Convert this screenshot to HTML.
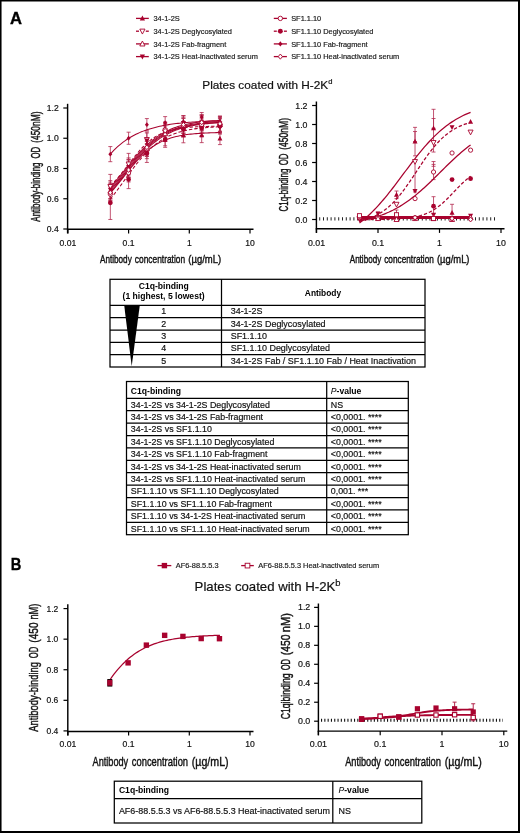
<!DOCTYPE html>
<html><head><meta charset="utf-8"><title>Figure</title>
<style>html,body{margin:0;padding:0;background:#fff;}svg{display:block;will-change:transform;}text{font-family:"Liberation Sans",sans-serif;}</style>
</head><body>
<svg width="520" height="833" viewBox="0 0 520 833" font-family="Liberation Sans, sans-serif">
<rect x="0" y="0" width="520" height="833" fill="#fff"/>
<text x="10" y="24.3" font-size="16.6" font-weight="bold" fill="#000" stroke="#000" stroke-width="0.35">A</text>
<line x1="136.00" y1="18.40" x2="148.80" y2="18.40" stroke="#a8022e" stroke-width="1.3" />
<path d="M142.40,15.54 L145.00,20.48 L139.80,20.48Z" fill="#a8022e"/>
<text x="153.50" y="21.25" font-size="7.4" text-anchor="start" fill="#1a1a1a" stroke="#1a1a1a" stroke-width="0.18" >34-1-2S</text>
<line x1="136.00" y1="31.20" x2="139.00" y2="31.20" stroke="#a8022e" stroke-width="1.3" />
<line x1="145.80" y1="31.20" x2="148.80" y2="31.20" stroke="#a8022e" stroke-width="1.3" />
<path d="M142.40,34.06 L145.00,29.12 L139.80,29.12Z" fill="#fff" stroke="#a8022e" stroke-width="0.9"/>
<text x="153.50" y="34.05" font-size="7.4" text-anchor="start" fill="#1a1a1a" stroke="#1a1a1a" stroke-width="0.18" >34-1-2S Deglycosylated</text>
<line x1="136.00" y1="43.90" x2="148.80" y2="43.90" stroke="#a8022e" stroke-width="1.3" />
<path d="M142.40,41.04 L145.00,45.98 L139.80,45.98Z" fill="#fff" stroke="#a8022e" stroke-width="0.9"/>
<text x="153.50" y="46.75" font-size="7.4" text-anchor="start" fill="#1a1a1a" stroke="#1a1a1a" stroke-width="0.18" >34-1-2S Fab-fragment</text>
<line x1="136.00" y1="56.60" x2="148.80" y2="56.60" stroke="#a8022e" stroke-width="1.3" />
<path d="M142.40,59.46 L145.00,54.52 L139.80,54.52Z" fill="#a8022e"/>
<text x="153.50" y="59.45" font-size="7.4" text-anchor="start" fill="#1a1a1a" stroke="#1a1a1a" stroke-width="0.18" >34-1-2S Heat-inactivated serum</text>
<line x1="273.80" y1="18.40" x2="286.90" y2="18.40" stroke="#a8022e" stroke-width="1.3" />
<circle cx="280.35" cy="18.40" r="2.21" fill="#fff" stroke="#a8022e" stroke-width="0.9"/>
<text x="291.20" y="21.25" font-size="7.4" text-anchor="start" fill="#1a1a1a" stroke="#1a1a1a" stroke-width="0.18" >SF1.1.10</text>
<line x1="273.80" y1="31.20" x2="276.80" y2="31.20" stroke="#a8022e" stroke-width="1.3" />
<line x1="283.90" y1="31.20" x2="286.90" y2="31.20" stroke="#a8022e" stroke-width="1.3" />
<circle cx="280.35" cy="31.20" r="2.47" fill="#a8022e"/>
<text x="291.20" y="34.05" font-size="7.4" text-anchor="start" fill="#1a1a1a" stroke="#1a1a1a" stroke-width="0.18" >SF1.1.10 Deglycosylated</text>
<line x1="273.80" y1="43.90" x2="286.90" y2="43.90" stroke="#a8022e" stroke-width="1.3" />
<path d="M280.35,41.30 L282.43,43.90 L280.35,46.50 L278.27,43.90Z" fill="#a8022e"/>
<text x="291.20" y="46.75" font-size="7.4" text-anchor="start" fill="#1a1a1a" stroke="#1a1a1a" stroke-width="0.18" >SF1.1.10 Fab-fragment</text>
<line x1="273.80" y1="56.60" x2="286.90" y2="56.60" stroke="#a8022e" stroke-width="1.3" />
<path d="M280.35,54.00 L282.43,56.60 L280.35,59.20 L278.27,56.60Z" fill="#fff" stroke="#a8022e" stroke-width="0.9"/>
<text x="291.20" y="59.45" font-size="7.4" text-anchor="start" fill="#1a1a1a" stroke="#1a1a1a" stroke-width="0.18" >SF1.1.10 Heat-inactivated serum</text>
<text x="202.3" y="88.7" font-size="11.8" fill="#111" stroke="#111" stroke-width="0.2">Plates coated with H-2K<tspan font-size="7.6" dy="-4.4">d</tspan></text>
<line x1="67.60" y1="103.80" x2="67.60" y2="233.40" stroke="#000" stroke-width="1.45" />
<line x1="63.30" y1="229.00" x2="67.60" y2="229.00" stroke="#000" stroke-width="1.2" />
<text x="58.70" y="232.00" font-size="8.6" text-anchor="end" fill="#111" stroke="#111" stroke-width="0.18" >0.4</text>
<line x1="63.30" y1="198.75" x2="67.60" y2="198.75" stroke="#000" stroke-width="1.2" />
<text x="58.70" y="201.75" font-size="8.6" text-anchor="end" fill="#111" stroke="#111" stroke-width="0.18" >0.6</text>
<line x1="63.30" y1="168.50" x2="67.60" y2="168.50" stroke="#000" stroke-width="1.2" />
<text x="58.70" y="171.50" font-size="8.6" text-anchor="end" fill="#111" stroke="#111" stroke-width="0.18" >0.8</text>
<line x1="63.30" y1="138.25" x2="67.60" y2="138.25" stroke="#000" stroke-width="1.2" />
<text x="58.70" y="141.25" font-size="8.6" text-anchor="end" fill="#111" stroke="#111" stroke-width="0.18" >1.0</text>
<line x1="63.30" y1="108.00" x2="67.60" y2="108.00" stroke="#000" stroke-width="1.2" />
<text x="58.70" y="111.00" font-size="8.6" text-anchor="end" fill="#111" stroke="#111" stroke-width="0.18" >1.2</text>
<line x1="66.90" y1="229.20" x2="253.50" y2="229.20" stroke="#000" stroke-width="1.45" />
<line x1="67.90" y1="229.20" x2="67.90" y2="233.40" stroke="#000" stroke-width="1.2" />
<text x="67.90" y="245.80" font-size="8.6" text-anchor="middle" fill="#111" stroke="#111" stroke-width="0.18" >0.01</text>
<line x1="128.60" y1="229.20" x2="128.60" y2="233.40" stroke="#000" stroke-width="1.2" />
<text x="128.60" y="245.80" font-size="8.6" text-anchor="middle" fill="#111" stroke="#111" stroke-width="0.18" >0.1</text>
<line x1="189.30" y1="229.20" x2="189.30" y2="233.40" stroke="#000" stroke-width="1.2" />
<text x="189.30" y="245.80" font-size="8.6" text-anchor="middle" fill="#111" stroke="#111" stroke-width="0.18" >1</text>
<line x1="250.00" y1="229.20" x2="250.00" y2="233.40" stroke="#000" stroke-width="1.2" />
<text x="250.00" y="245.80" font-size="8.6" text-anchor="middle" fill="#111" stroke="#111" stroke-width="0.18" >10</text>
<text x="99.95" y="262.90" font-size="11.8" fill="#111" stroke="#111" stroke-width="0.42" textLength="31.80" lengthAdjust="spacingAndGlyphs">Antibody</text>
<text x="134.85" y="262.90" font-size="11.8" fill="#111" stroke="#111" stroke-width="0.42" textLength="50.20" lengthAdjust="spacingAndGlyphs">concentration</text>
<text x="188.25" y="262.90" font-size="11.8" fill="#111" stroke="#111" stroke-width="0.42" textLength="32.90" lengthAdjust="spacingAndGlyphs">(µg/mL)</text>
<g transform="translate(39.70,221.40) rotate(-90)">
<text x="-0.25" y="0" font-size="12.3" fill="#111" stroke="#111" stroke-width="0.42" textLength="59.10" lengthAdjust="spacingAndGlyphs">Antibody-binding</text>
<text x="62.85" y="0" font-size="12.3" fill="#111" stroke="#111" stroke-width="0.42" textLength="11.80" lengthAdjust="spacingAndGlyphs">OD</text>
<text x="78.65" y="0" font-size="12.3" fill="#111" stroke="#111" stroke-width="0.42" textLength="31.20" lengthAdjust="spacingAndGlyphs">(450nM)</text>
</g>
<line x1="110.33" y1="200.26" x2="110.33" y2="185.14" stroke="#b3284e" stroke-width="0.8" />
<line x1="108.33" y1="200.26" x2="112.33" y2="200.26" stroke="#b3284e" stroke-width="0.8" />
<line x1="108.33" y1="185.14" x2="112.33" y2="185.14" stroke="#b3284e" stroke-width="0.8" />
<line x1="128.60" y1="177.57" x2="128.60" y2="159.42" stroke="#b3284e" stroke-width="0.8" />
<line x1="126.60" y1="177.57" x2="130.60" y2="177.57" stroke="#b3284e" stroke-width="0.8" />
<line x1="126.60" y1="159.42" x2="130.60" y2="159.42" stroke="#b3284e" stroke-width="0.8" />
<line x1="146.87" y1="158.67" x2="146.87" y2="143.54" stroke="#b3284e" stroke-width="0.8" />
<line x1="144.87" y1="158.67" x2="148.87" y2="158.67" stroke="#b3284e" stroke-width="0.8" />
<line x1="144.87" y1="143.54" x2="148.87" y2="143.54" stroke="#b3284e" stroke-width="0.8" />
<line x1="165.15" y1="145.81" x2="165.15" y2="133.71" stroke="#b3284e" stroke-width="0.8" />
<line x1="163.15" y1="145.81" x2="167.15" y2="145.81" stroke="#b3284e" stroke-width="0.8" />
<line x1="163.15" y1="133.71" x2="167.15" y2="133.71" stroke="#b3284e" stroke-width="0.8" />
<line x1="183.42" y1="142.79" x2="183.42" y2="127.66" stroke="#b3284e" stroke-width="0.8" />
<line x1="181.42" y1="142.79" x2="185.42" y2="142.79" stroke="#b3284e" stroke-width="0.8" />
<line x1="181.42" y1="127.66" x2="185.42" y2="127.66" stroke="#b3284e" stroke-width="0.8" />
<line x1="201.69" y1="142.64" x2="201.69" y2="127.51" stroke="#b3284e" stroke-width="0.8" />
<line x1="199.69" y1="142.64" x2="203.69" y2="142.64" stroke="#b3284e" stroke-width="0.8" />
<line x1="199.69" y1="127.51" x2="203.69" y2="127.51" stroke="#b3284e" stroke-width="0.8" />
<line x1="219.96" y1="144.60" x2="219.96" y2="132.50" stroke="#b3284e" stroke-width="0.8" />
<line x1="217.96" y1="144.60" x2="221.96" y2="144.60" stroke="#b3284e" stroke-width="0.8" />
<line x1="217.96" y1="132.50" x2="221.96" y2="132.50" stroke="#b3284e" stroke-width="0.8" />
<line x1="110.33" y1="198.60" x2="110.33" y2="174.40" stroke="#b3284e" stroke-width="0.8" />
<line x1="108.33" y1="198.60" x2="112.33" y2="198.60" stroke="#b3284e" stroke-width="0.8" />
<line x1="108.33" y1="174.40" x2="112.33" y2="174.40" stroke="#b3284e" stroke-width="0.8" />
<line x1="128.60" y1="174.55" x2="128.60" y2="153.38" stroke="#b3284e" stroke-width="0.8" />
<line x1="126.60" y1="174.55" x2="130.60" y2="174.55" stroke="#b3284e" stroke-width="0.8" />
<line x1="126.60" y1="153.38" x2="130.60" y2="153.38" stroke="#b3284e" stroke-width="0.8" />
<line x1="146.87" y1="147.02" x2="146.87" y2="131.90" stroke="#b3284e" stroke-width="0.8" />
<line x1="144.87" y1="147.02" x2="148.87" y2="147.02" stroke="#b3284e" stroke-width="0.8" />
<line x1="144.87" y1="131.90" x2="148.87" y2="131.90" stroke="#b3284e" stroke-width="0.8" />
<line x1="165.15" y1="139.76" x2="165.15" y2="124.64" stroke="#b3284e" stroke-width="0.8" />
<line x1="163.15" y1="139.76" x2="167.15" y2="139.76" stroke="#b3284e" stroke-width="0.8" />
<line x1="163.15" y1="124.64" x2="167.15" y2="124.64" stroke="#b3284e" stroke-width="0.8" />
<line x1="183.42" y1="136.74" x2="183.42" y2="121.61" stroke="#b3284e" stroke-width="0.8" />
<line x1="181.42" y1="136.74" x2="185.42" y2="136.74" stroke="#b3284e" stroke-width="0.8" />
<line x1="181.42" y1="121.61" x2="185.42" y2="121.61" stroke="#b3284e" stroke-width="0.8" />
<line x1="201.69" y1="137.04" x2="201.69" y2="118.89" stroke="#b3284e" stroke-width="0.8" />
<line x1="199.69" y1="137.04" x2="203.69" y2="137.04" stroke="#b3284e" stroke-width="0.8" />
<line x1="199.69" y1="118.89" x2="203.69" y2="118.89" stroke="#b3284e" stroke-width="0.8" />
<line x1="219.96" y1="133.86" x2="219.96" y2="118.74" stroke="#b3284e" stroke-width="0.8" />
<line x1="217.96" y1="133.86" x2="221.96" y2="133.86" stroke="#b3284e" stroke-width="0.8" />
<line x1="217.96" y1="118.74" x2="221.96" y2="118.74" stroke="#b3284e" stroke-width="0.8" />
<line x1="110.33" y1="200.26" x2="110.33" y2="182.11" stroke="#b3284e" stroke-width="0.8" />
<line x1="108.33" y1="200.26" x2="112.33" y2="200.26" stroke="#b3284e" stroke-width="0.8" />
<line x1="108.33" y1="182.11" x2="112.33" y2="182.11" stroke="#b3284e" stroke-width="0.8" />
<line x1="128.60" y1="177.57" x2="128.60" y2="159.42" stroke="#b3284e" stroke-width="0.8" />
<line x1="126.60" y1="177.57" x2="130.60" y2="177.57" stroke="#b3284e" stroke-width="0.8" />
<line x1="126.60" y1="159.42" x2="130.60" y2="159.42" stroke="#b3284e" stroke-width="0.8" />
<line x1="146.87" y1="156.40" x2="146.87" y2="141.27" stroke="#b3284e" stroke-width="0.8" />
<line x1="144.87" y1="156.40" x2="148.87" y2="156.40" stroke="#b3284e" stroke-width="0.8" />
<line x1="144.87" y1="141.27" x2="148.87" y2="141.27" stroke="#b3284e" stroke-width="0.8" />
<line x1="165.15" y1="141.28" x2="165.15" y2="126.15" stroke="#b3284e" stroke-width="0.8" />
<line x1="163.15" y1="141.28" x2="167.15" y2="141.28" stroke="#b3284e" stroke-width="0.8" />
<line x1="163.15" y1="126.15" x2="167.15" y2="126.15" stroke="#b3284e" stroke-width="0.8" />
<line x1="183.42" y1="133.41" x2="183.42" y2="118.28" stroke="#b3284e" stroke-width="0.8" />
<line x1="181.42" y1="133.41" x2="185.42" y2="133.41" stroke="#b3284e" stroke-width="0.8" />
<line x1="181.42" y1="118.28" x2="185.42" y2="118.28" stroke="#b3284e" stroke-width="0.8" />
<line x1="201.69" y1="130.69" x2="201.69" y2="115.56" stroke="#b3284e" stroke-width="0.8" />
<line x1="199.69" y1="130.69" x2="203.69" y2="130.69" stroke="#b3284e" stroke-width="0.8" />
<line x1="199.69" y1="115.56" x2="203.69" y2="115.56" stroke="#b3284e" stroke-width="0.8" />
<line x1="219.96" y1="132.20" x2="219.96" y2="117.07" stroke="#b3284e" stroke-width="0.8" />
<line x1="217.96" y1="132.20" x2="221.96" y2="132.20" stroke="#b3284e" stroke-width="0.8" />
<line x1="217.96" y1="117.07" x2="221.96" y2="117.07" stroke="#b3284e" stroke-width="0.8" />
<line x1="110.33" y1="198.75" x2="110.33" y2="180.60" stroke="#b3284e" stroke-width="0.8" />
<line x1="108.33" y1="198.75" x2="112.33" y2="198.75" stroke="#b3284e" stroke-width="0.8" />
<line x1="108.33" y1="180.60" x2="112.33" y2="180.60" stroke="#b3284e" stroke-width="0.8" />
<line x1="128.60" y1="176.06" x2="128.60" y2="157.91" stroke="#b3284e" stroke-width="0.8" />
<line x1="126.60" y1="176.06" x2="130.60" y2="176.06" stroke="#b3284e" stroke-width="0.8" />
<line x1="126.60" y1="157.91" x2="130.60" y2="157.91" stroke="#b3284e" stroke-width="0.8" />
<line x1="146.87" y1="148.08" x2="146.87" y2="132.96" stroke="#b3284e" stroke-width="0.8" />
<line x1="144.87" y1="148.08" x2="148.87" y2="148.08" stroke="#b3284e" stroke-width="0.8" />
<line x1="144.87" y1="132.96" x2="148.87" y2="132.96" stroke="#b3284e" stroke-width="0.8" />
<line x1="165.15" y1="138.25" x2="165.15" y2="123.12" stroke="#b3284e" stroke-width="0.8" />
<line x1="163.15" y1="138.25" x2="167.15" y2="138.25" stroke="#b3284e" stroke-width="0.8" />
<line x1="163.15" y1="123.12" x2="167.15" y2="123.12" stroke="#b3284e" stroke-width="0.8" />
<line x1="183.42" y1="130.69" x2="183.42" y2="115.56" stroke="#b3284e" stroke-width="0.8" />
<line x1="181.42" y1="130.69" x2="185.42" y2="130.69" stroke="#b3284e" stroke-width="0.8" />
<line x1="181.42" y1="115.56" x2="185.42" y2="115.56" stroke="#b3284e" stroke-width="0.8" />
<line x1="201.69" y1="129.93" x2="201.69" y2="114.81" stroke="#b3284e" stroke-width="0.8" />
<line x1="199.69" y1="129.93" x2="203.69" y2="129.93" stroke="#b3284e" stroke-width="0.8" />
<line x1="199.69" y1="114.81" x2="203.69" y2="114.81" stroke="#b3284e" stroke-width="0.8" />
<line x1="219.96" y1="131.29" x2="219.96" y2="116.17" stroke="#b3284e" stroke-width="0.8" />
<line x1="217.96" y1="131.29" x2="221.96" y2="131.29" stroke="#b3284e" stroke-width="0.8" />
<line x1="217.96" y1="116.17" x2="221.96" y2="116.17" stroke="#b3284e" stroke-width="0.8" />
<line x1="110.33" y1="203.29" x2="110.33" y2="185.14" stroke="#b3284e" stroke-width="0.8" />
<line x1="108.33" y1="203.29" x2="112.33" y2="203.29" stroke="#b3284e" stroke-width="0.8" />
<line x1="108.33" y1="185.14" x2="112.33" y2="185.14" stroke="#b3284e" stroke-width="0.8" />
<line x1="128.60" y1="181.96" x2="128.60" y2="163.81" stroke="#b3284e" stroke-width="0.8" />
<line x1="126.60" y1="181.96" x2="130.60" y2="181.96" stroke="#b3284e" stroke-width="0.8" />
<line x1="126.60" y1="163.81" x2="130.60" y2="163.81" stroke="#b3284e" stroke-width="0.8" />
<line x1="146.87" y1="156.40" x2="146.87" y2="141.27" stroke="#b3284e" stroke-width="0.8" />
<line x1="144.87" y1="156.40" x2="148.87" y2="156.40" stroke="#b3284e" stroke-width="0.8" />
<line x1="144.87" y1="141.27" x2="148.87" y2="141.27" stroke="#b3284e" stroke-width="0.8" />
<line x1="165.15" y1="137.04" x2="165.15" y2="121.91" stroke="#b3284e" stroke-width="0.8" />
<line x1="163.15" y1="137.04" x2="167.15" y2="137.04" stroke="#b3284e" stroke-width="0.8" />
<line x1="163.15" y1="121.91" x2="167.15" y2="121.91" stroke="#b3284e" stroke-width="0.8" />
<line x1="183.42" y1="133.41" x2="183.42" y2="118.28" stroke="#b3284e" stroke-width="0.8" />
<line x1="181.42" y1="133.41" x2="185.42" y2="133.41" stroke="#b3284e" stroke-width="0.8" />
<line x1="181.42" y1="118.28" x2="185.42" y2="118.28" stroke="#b3284e" stroke-width="0.8" />
<line x1="201.69" y1="132.20" x2="201.69" y2="117.07" stroke="#b3284e" stroke-width="0.8" />
<line x1="199.69" y1="132.20" x2="203.69" y2="132.20" stroke="#b3284e" stroke-width="0.8" />
<line x1="199.69" y1="117.07" x2="203.69" y2="117.07" stroke="#b3284e" stroke-width="0.8" />
<line x1="219.96" y1="132.20" x2="219.96" y2="117.07" stroke="#b3284e" stroke-width="0.8" />
<line x1="217.96" y1="132.20" x2="221.96" y2="132.20" stroke="#b3284e" stroke-width="0.8" />
<line x1="217.96" y1="117.07" x2="221.96" y2="117.07" stroke="#b3284e" stroke-width="0.8" />
<line x1="110.33" y1="219.47" x2="110.33" y2="186.20" stroke="#b3284e" stroke-width="0.8" />
<line x1="108.33" y1="219.47" x2="112.33" y2="219.47" stroke="#b3284e" stroke-width="0.8" />
<line x1="108.33" y1="186.20" x2="112.33" y2="186.20" stroke="#b3284e" stroke-width="0.8" />
<line x1="128.60" y1="188.62" x2="128.60" y2="170.47" stroke="#b3284e" stroke-width="0.8" />
<line x1="126.60" y1="188.62" x2="130.60" y2="188.62" stroke="#b3284e" stroke-width="0.8" />
<line x1="126.60" y1="170.47" x2="130.60" y2="170.47" stroke="#b3284e" stroke-width="0.8" />
<line x1="146.87" y1="162.45" x2="146.87" y2="144.30" stroke="#b3284e" stroke-width="0.8" />
<line x1="144.87" y1="162.45" x2="148.87" y2="162.45" stroke="#b3284e" stroke-width="0.8" />
<line x1="144.87" y1="144.30" x2="148.87" y2="144.30" stroke="#b3284e" stroke-width="0.8" />
<line x1="165.15" y1="147.33" x2="165.15" y2="132.20" stroke="#b3284e" stroke-width="0.8" />
<line x1="163.15" y1="147.33" x2="167.15" y2="147.33" stroke="#b3284e" stroke-width="0.8" />
<line x1="163.15" y1="132.20" x2="167.15" y2="132.20" stroke="#b3284e" stroke-width="0.8" />
<line x1="183.42" y1="136.74" x2="183.42" y2="121.61" stroke="#b3284e" stroke-width="0.8" />
<line x1="181.42" y1="136.74" x2="185.42" y2="136.74" stroke="#b3284e" stroke-width="0.8" />
<line x1="181.42" y1="121.61" x2="185.42" y2="121.61" stroke="#b3284e" stroke-width="0.8" />
<line x1="201.69" y1="135.53" x2="201.69" y2="120.40" stroke="#b3284e" stroke-width="0.8" />
<line x1="199.69" y1="135.53" x2="203.69" y2="135.53" stroke="#b3284e" stroke-width="0.8" />
<line x1="199.69" y1="120.40" x2="203.69" y2="120.40" stroke="#b3284e" stroke-width="0.8" />
<line x1="219.96" y1="133.86" x2="219.96" y2="118.74" stroke="#b3284e" stroke-width="0.8" />
<line x1="217.96" y1="133.86" x2="221.96" y2="133.86" stroke="#b3284e" stroke-width="0.8" />
<line x1="217.96" y1="118.74" x2="221.96" y2="118.74" stroke="#b3284e" stroke-width="0.8" />
<line x1="110.33" y1="161.69" x2="110.33" y2="146.57" stroke="#b3284e" stroke-width="0.8" />
<line x1="108.33" y1="161.69" x2="112.33" y2="161.69" stroke="#b3284e" stroke-width="0.8" />
<line x1="108.33" y1="146.57" x2="112.33" y2="146.57" stroke="#b3284e" stroke-width="0.8" />
<line x1="128.60" y1="144.30" x2="128.60" y2="132.20" stroke="#b3284e" stroke-width="0.8" />
<line x1="126.60" y1="144.30" x2="130.60" y2="144.30" stroke="#b3284e" stroke-width="0.8" />
<line x1="126.60" y1="132.20" x2="130.60" y2="132.20" stroke="#b3284e" stroke-width="0.8" />
<line x1="146.87" y1="130.69" x2="146.87" y2="118.59" stroke="#b3284e" stroke-width="0.8" />
<line x1="144.87" y1="130.69" x2="148.87" y2="130.69" stroke="#b3284e" stroke-width="0.8" />
<line x1="144.87" y1="118.59" x2="148.87" y2="118.59" stroke="#b3284e" stroke-width="0.8" />
<line x1="165.15" y1="128.72" x2="165.15" y2="116.62" stroke="#b3284e" stroke-width="0.8" />
<line x1="163.15" y1="128.72" x2="167.15" y2="128.72" stroke="#b3284e" stroke-width="0.8" />
<line x1="163.15" y1="116.62" x2="167.15" y2="116.62" stroke="#b3284e" stroke-width="0.8" />
<line x1="183.42" y1="127.81" x2="183.42" y2="115.71" stroke="#b3284e" stroke-width="0.8" />
<line x1="181.42" y1="127.81" x2="185.42" y2="127.81" stroke="#b3284e" stroke-width="0.8" />
<line x1="181.42" y1="115.71" x2="185.42" y2="115.71" stroke="#b3284e" stroke-width="0.8" />
<line x1="201.69" y1="121.61" x2="201.69" y2="112.54" stroke="#b3284e" stroke-width="0.8" />
<line x1="199.69" y1="121.61" x2="203.69" y2="121.61" stroke="#b3284e" stroke-width="0.8" />
<line x1="199.69" y1="112.54" x2="203.69" y2="112.54" stroke="#b3284e" stroke-width="0.8" />
<line x1="219.96" y1="126.15" x2="219.96" y2="117.07" stroke="#b3284e" stroke-width="0.8" />
<line x1="217.96" y1="126.15" x2="221.96" y2="126.15" stroke="#b3284e" stroke-width="0.8" />
<line x1="217.96" y1="117.07" x2="221.96" y2="117.07" stroke="#b3284e" stroke-width="0.8" />
<line x1="110.33" y1="201.77" x2="110.33" y2="183.62" stroke="#b3284e" stroke-width="0.8" />
<line x1="108.33" y1="201.77" x2="112.33" y2="201.77" stroke="#b3284e" stroke-width="0.8" />
<line x1="108.33" y1="183.62" x2="112.33" y2="183.62" stroke="#b3284e" stroke-width="0.8" />
<line x1="128.60" y1="179.09" x2="128.60" y2="160.94" stroke="#b3284e" stroke-width="0.8" />
<line x1="126.60" y1="179.09" x2="130.60" y2="179.09" stroke="#b3284e" stroke-width="0.8" />
<line x1="126.60" y1="160.94" x2="130.60" y2="160.94" stroke="#b3284e" stroke-width="0.8" />
<line x1="146.87" y1="154.89" x2="146.87" y2="139.76" stroke="#b3284e" stroke-width="0.8" />
<line x1="144.87" y1="154.89" x2="148.87" y2="154.89" stroke="#b3284e" stroke-width="0.8" />
<line x1="144.87" y1="139.76" x2="148.87" y2="139.76" stroke="#b3284e" stroke-width="0.8" />
<line x1="165.15" y1="138.25" x2="165.15" y2="123.12" stroke="#b3284e" stroke-width="0.8" />
<line x1="163.15" y1="138.25" x2="167.15" y2="138.25" stroke="#b3284e" stroke-width="0.8" />
<line x1="163.15" y1="123.12" x2="167.15" y2="123.12" stroke="#b3284e" stroke-width="0.8" />
<line x1="183.42" y1="132.20" x2="183.42" y2="117.07" stroke="#b3284e" stroke-width="0.8" />
<line x1="181.42" y1="132.20" x2="185.42" y2="132.20" stroke="#b3284e" stroke-width="0.8" />
<line x1="181.42" y1="117.07" x2="185.42" y2="117.07" stroke="#b3284e" stroke-width="0.8" />
<line x1="201.69" y1="129.93" x2="201.69" y2="114.81" stroke="#b3284e" stroke-width="0.8" />
<line x1="199.69" y1="129.93" x2="203.69" y2="129.93" stroke="#b3284e" stroke-width="0.8" />
<line x1="199.69" y1="114.81" x2="203.69" y2="114.81" stroke="#b3284e" stroke-width="0.8" />
<line x1="219.96" y1="131.29" x2="219.96" y2="116.17" stroke="#b3284e" stroke-width="0.8" />
<line x1="217.96" y1="131.29" x2="221.96" y2="131.29" stroke="#b3284e" stroke-width="0.8" />
<line x1="217.96" y1="116.17" x2="221.96" y2="116.17" stroke="#b3284e" stroke-width="0.8" />
<path d="M110.33,193.02 L112.15,190.97 L113.98,188.86 L115.81,186.68 L117.64,184.46 L119.46,182.19 L121.29,179.90 L123.12,177.60 L124.95,175.29 L126.77,172.98 L128.60,170.70 L130.43,168.45 L132.25,166.25 L134.08,164.10 L135.91,162.01 L137.74,159.99 L139.56,158.05 L141.39,156.19 L143.22,154.42 L145.05,152.74 L146.87,151.15 L148.70,149.65 L150.53,148.24 L152.35,146.92 L154.18,145.70 L156.01,144.55 L157.84,143.49 L159.66,142.51 L161.49,141.60 L163.32,140.76 L165.15,139.99 L166.97,139.29 L168.80,138.64 L170.63,138.04 L172.45,137.50 L174.28,137.01 L176.11,136.56 L177.94,136.14 L179.76,135.77 L181.59,135.43 L183.42,135.12 L185.24,134.84 L187.07,134.58 L188.90,134.35 L190.73,134.14 L192.55,133.95 L194.38,133.78 L196.21,133.62 L198.04,133.48 L199.86,133.36 L201.69,133.24 L203.52,133.14 L205.34,133.04 L207.17,132.96 L209.00,132.88 L210.83,132.81 L212.65,132.75 L214.48,132.69 L216.31,132.64 L218.14,132.59 L219.96,132.55" fill="none" stroke="#a8022e" stroke-width="1.05"/>
<path d="M110.33,185.67 L112.15,183.91 L113.98,182.04 L115.81,180.07 L117.64,178.01 L119.46,175.86 L121.29,173.63 L123.12,171.34 L124.95,169.00 L126.77,166.64 L128.60,164.26 L130.43,161.88 L132.25,159.53 L134.08,157.22 L135.91,154.96 L137.74,152.77 L139.56,150.67 L141.39,148.65 L143.22,146.74 L145.05,144.93 L146.87,143.24 L148.70,141.65 L150.53,140.18 L152.35,138.82 L154.18,137.56 L156.01,136.41 L157.84,135.36 L159.66,134.40 L161.49,133.53 L163.32,132.74 L165.15,132.02 L166.97,131.38 L168.80,130.80 L170.63,130.28 L172.45,129.82 L174.28,129.40 L176.11,129.03 L177.94,128.69 L179.76,128.40 L181.59,128.13 L183.42,127.89 L185.24,127.68 L187.07,127.50 L188.90,127.33 L190.73,127.18 L192.55,127.05 L194.38,126.94 L196.21,126.83 L198.04,126.74 L199.86,126.66 L201.69,126.59 L203.52,126.53 L205.34,126.47 L207.17,126.42 L209.00,126.37 L210.83,126.34 L212.65,126.30 L214.48,126.27 L216.31,126.24 L218.14,126.22 L219.96,126.20" fill="none" stroke="#a8022e" stroke-width="1.05" stroke-dasharray="3.4 2.0"/>
<path d="M110.33,190.41 L112.15,188.37 L113.98,186.26 L115.81,184.10 L117.64,181.90 L119.46,179.67 L121.29,177.41 L123.12,175.13 L124.95,172.84 L126.77,170.55 L128.60,168.26 L130.43,166.00 L132.25,163.76 L134.08,161.56 L135.91,159.40 L137.74,157.28 L139.56,155.23 L141.39,153.24 L143.22,151.31 L145.05,149.45 L146.87,147.67 L148.70,145.96 L150.53,144.33 L152.35,142.78 L154.18,141.31 L156.01,139.91 L157.84,138.60 L159.66,137.36 L161.49,136.19 L163.32,135.10 L165.15,134.07 L166.97,133.11 L168.80,132.22 L170.63,131.38 L172.45,130.61 L174.28,129.89 L176.11,129.22 L177.94,128.60 L179.76,128.02 L181.59,127.49 L183.42,127.00 L185.24,126.54 L187.07,126.13 L188.90,125.74 L190.73,125.38 L192.55,125.06 L194.38,124.76 L196.21,124.48 L198.04,124.22 L199.86,123.99 L201.69,123.77 L203.52,123.58 L205.34,123.39 L207.17,123.23 L209.00,123.08 L210.83,122.93 L212.65,122.81 L214.48,122.69 L216.31,122.58 L218.14,122.48 L219.96,122.39" fill="none" stroke="#a8022e" stroke-width="1.05"/>
<path d="M110.33,187.39 L112.15,185.31 L113.98,183.17 L115.81,180.99 L117.64,178.78 L119.46,176.53 L121.29,174.27 L123.12,172.00 L124.95,169.73 L126.77,167.46 L128.60,165.20 L130.43,162.97 L132.25,160.78 L134.08,158.62 L135.91,156.50 L137.74,154.44 L139.56,152.44 L141.39,150.50 L143.22,148.63 L145.05,146.82 L146.87,145.09 L148.70,143.44 L150.53,141.86 L152.35,140.36 L154.18,138.93 L156.01,137.58 L157.84,136.31 L159.66,135.11 L161.49,133.98 L163.32,132.92 L165.15,131.92 L166.97,130.99 L168.80,130.12 L170.63,129.31 L172.45,128.56 L174.28,127.85 L176.11,127.20 L177.94,126.60 L179.76,126.03 L181.59,125.51 L183.42,125.03 L185.24,124.58 L187.07,124.17 L188.90,123.79 L190.73,123.44 L192.55,123.12 L194.38,122.82 L196.21,122.54 L198.04,122.29 L199.86,122.06 L201.69,121.84 L203.52,121.65 L205.34,121.46 L207.17,121.30 L209.00,121.14 L210.83,121.00 L212.65,120.87 L214.48,120.75 L216.31,120.65 L218.14,120.55 L219.96,120.45" fill="none" stroke="#a8022e" stroke-width="1.05"/>
<path d="M110.33,191.94 L112.15,189.87 L113.98,187.75 L115.81,185.58 L117.64,183.37 L119.46,181.13 L121.29,178.87 L123.12,176.59 L124.95,174.30 L126.77,172.01 L128.60,169.74 L130.43,167.48 L132.25,165.24 L134.08,163.04 L135.91,160.88 L137.74,158.77 L139.56,156.71 L141.39,154.71 L143.22,152.77 L145.05,150.90 L146.87,149.10 L148.70,147.38 L150.53,145.73 L152.35,144.15 L154.18,142.65 L156.01,141.23 L157.84,139.88 L159.66,138.61 L161.49,137.40 L163.32,136.27 L165.15,135.21 L166.97,134.21 L168.80,133.28 L170.63,132.41 L172.45,131.59 L174.28,130.83 L176.11,130.12 L177.94,129.47 L179.76,128.85 L181.59,128.29 L183.42,127.76 L185.24,127.27 L187.07,126.82 L188.90,126.40 L190.73,126.02 L192.55,125.66 L194.38,125.33 L196.21,125.03 L198.04,124.74 L199.86,124.49 L201.69,124.25 L203.52,124.03 L205.34,123.83 L207.17,123.64 L209.00,123.47 L210.83,123.31 L212.65,123.16 L214.48,123.03 L216.31,122.91 L218.14,122.80 L219.96,122.69" fill="none" stroke="#a8022e" stroke-width="1.05"/>
<path d="M110.33,199.05 L112.15,196.79 L113.98,194.46 L115.81,192.08 L117.64,189.64 L119.46,187.17 L121.29,184.66 L123.12,182.13 L124.95,179.60 L126.77,177.06 L128.60,174.54 L130.43,172.04 L132.25,169.58 L134.08,167.16 L135.91,164.79 L137.74,162.49 L139.56,160.25 L141.39,158.09 L143.22,156.01 L145.05,154.02 L146.87,152.11 L148.70,150.30 L150.53,148.57 L152.35,146.94 L154.18,145.40 L156.01,143.95 L157.84,142.58 L159.66,141.31 L161.49,140.11 L163.32,139.00 L165.15,137.96 L166.97,136.99 L168.80,136.10 L170.63,135.27 L172.45,134.50 L174.28,133.79 L176.11,133.14 L177.94,132.53 L179.76,131.98 L181.59,131.47 L183.42,131.00 L185.24,130.57 L187.07,130.17 L188.90,129.81 L190.73,129.47 L192.55,129.17 L194.38,128.89 L196.21,128.64 L198.04,128.40 L199.86,128.19 L201.69,127.99 L203.52,127.81 L205.34,127.65 L207.17,127.50 L209.00,127.37 L210.83,127.24 L212.65,127.13 L214.48,127.03 L216.31,126.93 L218.14,126.85 L219.96,126.77" fill="none" stroke="#a8022e" stroke-width="1.05" stroke-dasharray="3.4 2.0"/>
<path d="M110.33,154.16 L112.15,152.12 L113.98,150.19 L115.81,148.38 L117.64,146.68 L119.46,145.07 L121.29,143.56 L123.12,142.14 L124.95,140.81 L126.77,139.55 L128.60,138.37 L130.43,137.25 L132.25,136.21 L134.08,135.23 L135.91,134.30 L137.74,133.44 L139.56,132.62 L141.39,131.85 L143.22,131.13 L145.05,130.46 L146.87,129.82 L148.70,129.22 L150.53,128.66 L152.35,128.13 L154.18,127.64 L156.01,127.17 L157.84,126.74 L159.66,126.33 L161.49,125.94 L163.32,125.58 L165.15,125.24 L166.97,124.92 L168.80,124.62 L170.63,124.34 L172.45,124.08 L174.28,123.83 L176.11,123.59 L177.94,123.38 L179.76,123.17 L181.59,122.98 L183.42,122.80 L185.24,122.63 L187.07,122.47 L188.90,122.32 L190.73,122.18 L192.55,122.05 L194.38,121.92 L196.21,121.81 L198.04,121.70 L199.86,121.60 L201.69,121.50 L203.52,121.41 L205.34,121.33 L207.17,121.25 L209.00,121.17 L210.83,121.10 L212.65,121.04 L214.48,120.98 L216.31,120.92 L218.14,120.86 L219.96,120.81" fill="none" stroke="#a8022e" stroke-width="1.05"/>
<path d="M110.33,188.91 L112.15,186.83 L113.98,184.69 L115.81,182.52 L117.64,180.30 L119.46,178.06 L121.29,175.79 L123.12,173.52 L124.95,171.24 L126.77,168.96 L128.60,166.70 L130.43,164.46 L132.25,162.25 L134.08,160.08 L135.91,157.96 L137.74,155.88 L139.56,153.87 L141.39,151.91 L143.22,150.02 L145.05,148.21 L146.87,146.46 L148.70,144.80 L150.53,143.20 L152.35,141.69 L154.18,140.25 L156.01,138.89 L157.84,137.60 L159.66,136.39 L161.49,135.25 L163.32,134.17 L165.15,133.17 L166.97,132.23 L168.80,131.35 L170.63,130.53 L172.45,129.77 L174.28,129.06 L176.11,128.40 L177.94,127.79 L179.76,127.22 L181.59,126.69 L183.42,126.20 L185.24,125.75 L187.07,125.34 L188.90,124.95 L190.73,124.60 L192.55,124.27 L194.38,123.97 L196.21,123.69 L198.04,123.44 L199.86,123.20 L201.69,122.98 L203.52,122.79 L205.34,122.60 L207.17,122.43 L209.00,122.28 L210.83,122.14 L212.65,122.01 L214.48,121.89 L216.31,121.78 L218.14,121.67 L219.96,121.58" fill="none" stroke="#a8022e" stroke-width="1.05"/>
<path d="M110.33,190.00 L112.78,194.66 L107.88,194.66Z" fill="#a8022e"/>
<path d="M128.60,165.81 L131.05,170.46 L126.15,170.46Z" fill="#a8022e"/>
<path d="M146.87,148.41 L149.32,153.07 L144.42,153.07Z" fill="#a8022e"/>
<path d="M165.15,137.07 L167.60,141.72 L162.70,141.72Z" fill="#a8022e"/>
<path d="M183.42,132.53 L185.87,137.19 L180.97,137.19Z" fill="#a8022e"/>
<path d="M201.69,132.38 L204.14,137.03 L199.24,137.03Z" fill="#a8022e"/>
<path d="M219.96,135.86 L222.41,140.51 L217.51,140.51Z" fill="#a8022e"/>
<path d="M110.33,189.19 L112.78,184.54 L107.88,184.54Z" fill="#fff" stroke="#a8022e" stroke-width="0.9"/>
<path d="M128.60,166.66 L131.05,162.00 L126.15,162.00Z" fill="#fff" stroke="#a8022e" stroke-width="0.9"/>
<path d="M146.87,142.16 L149.32,137.50 L144.42,137.50Z" fill="#fff" stroke="#a8022e" stroke-width="0.9"/>
<path d="M165.15,134.89 L167.60,130.24 L162.70,130.24Z" fill="#fff" stroke="#a8022e" stroke-width="0.9"/>
<path d="M183.42,131.87 L185.87,127.22 L180.97,127.22Z" fill="#fff" stroke="#a8022e" stroke-width="0.9"/>
<path d="M201.69,130.66 L204.14,126.00 L199.24,126.00Z" fill="#fff" stroke="#a8022e" stroke-width="0.9"/>
<path d="M219.96,129.00 L222.41,124.34 L217.51,124.34Z" fill="#fff" stroke="#a8022e" stroke-width="0.9"/>
<path d="M110.33,188.49 L112.78,193.15 L107.88,193.15Z" fill="#fff" stroke="#a8022e" stroke-width="0.9"/>
<path d="M128.60,165.81 L131.05,170.46 L126.15,170.46Z" fill="#fff" stroke="#a8022e" stroke-width="0.9"/>
<path d="M146.87,146.14 L149.32,150.80 L144.42,150.80Z" fill="#fff" stroke="#a8022e" stroke-width="0.9"/>
<path d="M165.15,131.02 L167.60,135.67 L162.70,135.67Z" fill="#fff" stroke="#a8022e" stroke-width="0.9"/>
<path d="M183.42,123.15 L185.87,127.81 L180.97,127.81Z" fill="#fff" stroke="#a8022e" stroke-width="0.9"/>
<path d="M201.69,120.43 L204.14,125.08 L199.24,125.08Z" fill="#fff" stroke="#a8022e" stroke-width="0.9"/>
<path d="M219.96,121.94 L222.41,126.60 L217.51,126.60Z" fill="#fff" stroke="#a8022e" stroke-width="0.9"/>
<path d="M110.33,192.37 L112.78,187.72 L107.88,187.72Z" fill="#a8022e"/>
<path d="M128.60,169.68 L131.05,165.03 L126.15,165.03Z" fill="#a8022e"/>
<path d="M146.87,143.21 L149.32,138.56 L144.42,138.56Z" fill="#a8022e"/>
<path d="M165.15,133.38 L167.60,128.73 L162.70,128.73Z" fill="#a8022e"/>
<path d="M183.42,125.82 L185.87,121.16 L180.97,121.16Z" fill="#a8022e"/>
<path d="M201.69,125.06 L204.14,120.41 L199.24,120.41Z" fill="#a8022e"/>
<path d="M219.96,126.42 L222.41,121.77 L217.51,121.77Z" fill="#a8022e"/>
<circle cx="110.33" cy="194.21" r="2.08" fill="#fff" stroke="#a8022e" stroke-width="0.9"/>
<circle cx="128.60" cy="172.89" r="2.08" fill="#fff" stroke="#a8022e" stroke-width="0.9"/>
<circle cx="146.87" cy="148.84" r="2.08" fill="#fff" stroke="#a8022e" stroke-width="0.9"/>
<circle cx="165.15" cy="129.48" r="2.08" fill="#fff" stroke="#a8022e" stroke-width="0.9"/>
<circle cx="183.42" cy="125.85" r="2.08" fill="#fff" stroke="#a8022e" stroke-width="0.9"/>
<circle cx="201.69" cy="124.64" r="2.08" fill="#fff" stroke="#a8022e" stroke-width="0.9"/>
<circle cx="219.96" cy="124.64" r="2.08" fill="#fff" stroke="#a8022e" stroke-width="0.9"/>
<circle cx="110.33" cy="202.83" r="2.33" fill="#a8022e"/>
<circle cx="128.60" cy="179.54" r="2.33" fill="#a8022e"/>
<circle cx="146.87" cy="153.38" r="2.33" fill="#a8022e"/>
<circle cx="165.15" cy="139.76" r="2.33" fill="#a8022e"/>
<circle cx="183.42" cy="129.18" r="2.33" fill="#a8022e"/>
<circle cx="201.69" cy="127.96" r="2.33" fill="#a8022e"/>
<circle cx="219.96" cy="126.30" r="2.33" fill="#a8022e"/>
<path d="M110.33,151.68 L112.29,154.13 L110.33,156.58 L108.37,154.13Z" fill="#a8022e"/>
<path d="M128.60,135.80 L130.56,138.25 L128.60,140.70 L126.64,138.25Z" fill="#a8022e"/>
<path d="M146.87,122.19 L148.83,124.64 L146.87,127.09 L144.91,124.64Z" fill="#a8022e"/>
<path d="M165.15,120.22 L167.11,122.67 L165.15,125.12 L163.19,122.67Z" fill="#a8022e"/>
<path d="M183.42,119.31 L185.38,121.76 L183.42,124.21 L181.46,121.76Z" fill="#a8022e"/>
<path d="M201.69,114.63 L203.65,117.08 L201.69,119.53 L199.73,117.08Z" fill="#a8022e"/>
<path d="M219.96,119.16 L221.92,121.61 L219.96,124.06 L218.00,121.61Z" fill="#a8022e"/>
<path d="M110.33,190.25 L112.29,192.70 L110.33,195.15 L108.37,192.70Z" fill="#fff" stroke="#a8022e" stroke-width="0.9"/>
<path d="M128.60,167.56 L130.56,170.01 L128.60,172.46 L126.64,170.01Z" fill="#fff" stroke="#a8022e" stroke-width="0.9"/>
<path d="M146.87,144.88 L148.83,147.33 L146.87,149.78 L144.91,147.33Z" fill="#fff" stroke="#a8022e" stroke-width="0.9"/>
<path d="M165.15,128.24 L167.11,130.69 L165.15,133.14 L163.19,130.69Z" fill="#fff" stroke="#a8022e" stroke-width="0.9"/>
<path d="M183.42,122.19 L185.38,124.64 L183.42,127.09 L181.46,124.64Z" fill="#fff" stroke="#a8022e" stroke-width="0.9"/>
<path d="M201.69,119.92 L203.65,122.37 L201.69,124.82 L199.73,122.37Z" fill="#fff" stroke="#a8022e" stroke-width="0.9"/>
<path d="M219.96,121.28 L221.92,123.73 L219.96,126.18 L218.00,123.73Z" fill="#fff" stroke="#a8022e" stroke-width="0.9"/>
<line x1="319.2" y1="218.9" x2="497" y2="218.9" stroke="#222" stroke-width="3.2" stroke-dasharray="1 2.8"/>
<line x1="316.40" y1="101.50" x2="316.40" y2="232.90" stroke="#000" stroke-width="1.45" />
<line x1="312.10" y1="219.50" x2="316.40" y2="219.50" stroke="#000" stroke-width="1.2" />
<text x="307.50" y="222.50" font-size="8.8" text-anchor="end" fill="#111" stroke="#111" stroke-width="0.18" >0.0</text>
<line x1="312.10" y1="200.50" x2="316.40" y2="200.50" stroke="#000" stroke-width="1.2" />
<text x="307.50" y="203.50" font-size="8.8" text-anchor="end" fill="#111" stroke="#111" stroke-width="0.18" >0.2</text>
<line x1="312.10" y1="181.50" x2="316.40" y2="181.50" stroke="#000" stroke-width="1.2" />
<text x="307.50" y="184.50" font-size="8.8" text-anchor="end" fill="#111" stroke="#111" stroke-width="0.18" >0.4</text>
<line x1="312.10" y1="162.50" x2="316.40" y2="162.50" stroke="#000" stroke-width="1.2" />
<text x="307.50" y="165.50" font-size="8.8" text-anchor="end" fill="#111" stroke="#111" stroke-width="0.18" >0.6</text>
<line x1="312.10" y1="143.50" x2="316.40" y2="143.50" stroke="#000" stroke-width="1.2" />
<text x="307.50" y="146.50" font-size="8.8" text-anchor="end" fill="#111" stroke="#111" stroke-width="0.18" >0.8</text>
<line x1="312.10" y1="124.50" x2="316.40" y2="124.50" stroke="#000" stroke-width="1.2" />
<text x="307.50" y="127.50" font-size="8.8" text-anchor="end" fill="#111" stroke="#111" stroke-width="0.18" >1.0</text>
<line x1="312.10" y1="105.50" x2="316.40" y2="105.50" stroke="#000" stroke-width="1.2" />
<text x="307.50" y="108.50" font-size="8.8" text-anchor="end" fill="#111" stroke="#111" stroke-width="0.18" >1.2</text>
<line x1="315.70" y1="228.70" x2="504.50" y2="228.70" stroke="#000" stroke-width="1.45" />
<line x1="316.50" y1="228.70" x2="316.50" y2="232.90" stroke="#000" stroke-width="1.2" />
<text x="316.50" y="245.80" font-size="8.8" text-anchor="middle" fill="#111" stroke="#111" stroke-width="0.18" >0.01</text>
<line x1="378.00" y1="228.70" x2="378.00" y2="232.90" stroke="#000" stroke-width="1.2" />
<text x="378.00" y="245.80" font-size="8.8" text-anchor="middle" fill="#111" stroke="#111" stroke-width="0.18" >0.1</text>
<line x1="439.50" y1="228.70" x2="439.50" y2="232.90" stroke="#000" stroke-width="1.2" />
<text x="439.50" y="245.80" font-size="8.8" text-anchor="middle" fill="#111" stroke="#111" stroke-width="0.18" >1</text>
<line x1="501.00" y1="228.70" x2="501.00" y2="232.90" stroke="#000" stroke-width="1.2" />
<text x="501.00" y="245.80" font-size="8.8" text-anchor="middle" fill="#111" stroke="#111" stroke-width="0.18" >10</text>
<text x="349.75" y="262.70" font-size="11.8" fill="#111" stroke="#111" stroke-width="0.42" textLength="31.42" lengthAdjust="spacingAndGlyphs">Antibody</text>
<text x="384.23" y="262.70" font-size="11.8" fill="#111" stroke="#111" stroke-width="0.42" textLength="49.60" lengthAdjust="spacingAndGlyphs">concentration</text>
<text x="436.99" y="262.70" font-size="11.8" fill="#111" stroke="#111" stroke-width="0.42" textLength="32.51" lengthAdjust="spacingAndGlyphs">(µg/mL)</text>
<g transform="translate(287.70,211.30) rotate(-90)">
<text x="-0.25" y="0" font-size="12.3" fill="#111" stroke="#111" stroke-width="0.42" textLength="43.00" lengthAdjust="spacingAndGlyphs">C1q-binding</text>
<text x="46.05" y="0" font-size="12.3" fill="#111" stroke="#111" stroke-width="0.42" textLength="11.70" lengthAdjust="spacingAndGlyphs">OD</text>
<text x="61.55" y="0" font-size="12.3" fill="#111" stroke="#111" stroke-width="0.42" textLength="31.80" lengthAdjust="spacingAndGlyphs">(450nM)</text>
</g>
<line x1="415.03" y1="141.60" x2="415.03" y2="131.53" stroke="#b3284e" stroke-width="0.8" />
<line x1="413.03" y1="141.60" x2="417.03" y2="141.60" stroke="#b3284e" stroke-width="0.8" />
<line x1="413.03" y1="131.53" x2="417.03" y2="131.53" stroke="#b3284e" stroke-width="0.8" />
<line x1="433.54" y1="128.30" x2="433.54" y2="118.52" stroke="#b3284e" stroke-width="0.8" />
<line x1="431.54" y1="128.30" x2="435.54" y2="128.30" stroke="#b3284e" stroke-width="0.8" />
<line x1="431.54" y1="118.52" x2="435.54" y2="118.52" stroke="#b3284e" stroke-width="0.8" />
<line x1="396.51" y1="198.60" x2="396.51" y2="191.00" stroke="#b3284e" stroke-width="0.8" />
<line x1="394.51" y1="198.60" x2="398.51" y2="198.60" stroke="#b3284e" stroke-width="0.8" />
<line x1="394.51" y1="191.00" x2="398.51" y2="191.00" stroke="#b3284e" stroke-width="0.8" />
<line x1="415.03" y1="155.85" x2="415.03" y2="127.35" stroke="#b3284e" stroke-width="0.8" />
<line x1="413.03" y1="155.85" x2="417.03" y2="155.85" stroke="#b3284e" stroke-width="0.8" />
<line x1="413.03" y1="127.35" x2="417.03" y2="127.35" stroke="#b3284e" stroke-width="0.8" />
<line x1="433.54" y1="152.05" x2="433.54" y2="109.30" stroke="#b3284e" stroke-width="0.8" />
<line x1="431.54" y1="152.05" x2="435.54" y2="152.05" stroke="#b3284e" stroke-width="0.8" />
<line x1="431.54" y1="109.30" x2="435.54" y2="109.30" stroke="#b3284e" stroke-width="0.8" />
<line x1="433.54" y1="179.60" x2="433.54" y2="164.40" stroke="#b3284e" stroke-width="0.8" />
<line x1="431.54" y1="179.60" x2="435.54" y2="179.60" stroke="#b3284e" stroke-width="0.8" />
<line x1="431.54" y1="164.40" x2="435.54" y2="164.40" stroke="#b3284e" stroke-width="0.8" />
<line x1="433.54" y1="213.80" x2="433.54" y2="196.70" stroke="#b3284e" stroke-width="0.8" />
<line x1="431.54" y1="213.80" x2="435.54" y2="213.80" stroke="#b3284e" stroke-width="0.8" />
<line x1="431.54" y1="196.70" x2="435.54" y2="196.70" stroke="#b3284e" stroke-width="0.8" />
<line x1="452.05" y1="219.50" x2="452.05" y2="204.30" stroke="#b3284e" stroke-width="0.8" />
<line x1="450.05" y1="219.50" x2="454.05" y2="219.50" stroke="#b3284e" stroke-width="0.8" />
<line x1="450.05" y1="204.30" x2="454.05" y2="204.30" stroke="#b3284e" stroke-width="0.8" />
<line x1="396.51" y1="217.60" x2="396.51" y2="210.00" stroke="#b3284e" stroke-width="0.8" />
<line x1="394.51" y1="217.60" x2="398.51" y2="217.60" stroke="#b3284e" stroke-width="0.8" />
<line x1="394.51" y1="210.00" x2="398.51" y2="210.00" stroke="#b3284e" stroke-width="0.8" />
<line x1="378.00" y1="216.65" x2="378.00" y2="211.90" stroke="#b3284e" stroke-width="0.8" />
<line x1="376.00" y1="216.65" x2="380.00" y2="216.65" stroke="#b3284e" stroke-width="0.8" />
<line x1="376.00" y1="211.90" x2="380.00" y2="211.90" stroke="#b3284e" stroke-width="0.8" />
<line x1="415.03" y1="191.95" x2="415.03" y2="161.55" stroke="#b3284e" stroke-width="0.8" />
<line x1="413.03" y1="191.95" x2="417.03" y2="191.95" stroke="#b3284e" stroke-width="0.8" />
<line x1="413.03" y1="161.55" x2="417.03" y2="161.55" stroke="#b3284e" stroke-width="0.8" />
<line x1="433.54" y1="166.30" x2="433.54" y2="161.55" stroke="#b3284e" stroke-width="0.8" />
<line x1="431.54" y1="166.30" x2="435.54" y2="166.30" stroke="#b3284e" stroke-width="0.8" />
<line x1="431.54" y1="161.55" x2="435.54" y2="161.55" stroke="#b3284e" stroke-width="0.8" />
<line x1="359.49" y1="218.36" x2="470.57" y2="218.36" stroke="#a8022e" stroke-width="1.3" />
<line x1="359.49" y1="217.41" x2="470.57" y2="217.41" stroke="#a8022e" stroke-width="1.2" />
<line x1="359.49" y1="216.46" x2="470.57" y2="216.46" stroke="#a8022e" stroke-width="1.1" />
<path d="M359.49,222.93 L361.34,221.51 L363.19,220.03 L365.04,218.48 L366.89,216.87 L368.74,215.19 L370.59,213.45 L372.45,211.64 L374.30,209.77 L376.15,207.84 L378.00,205.85 L379.85,203.79 L381.70,201.68 L383.55,199.52 L385.41,197.30 L387.26,195.04 L389.11,192.73 L390.96,190.38 L392.81,188.00 L394.66,185.58 L396.51,183.14 L398.36,180.68 L400.22,178.21 L402.07,175.73 L403.92,173.24 L405.77,170.75 L407.62,168.28 L409.47,165.81 L411.32,163.37 L413.18,160.95 L415.03,158.56 L416.88,156.20 L418.73,153.88 L420.58,151.61 L422.43,149.38 L424.28,147.21 L426.13,145.08 L427.99,143.02 L429.84,141.01 L431.69,139.06 L433.54,137.18 L435.39,135.36 L437.24,133.60 L439.09,131.91 L440.95,130.28 L442.80,128.72 L444.65,127.23 L446.50,125.79 L448.35,124.42 L450.20,123.11 L452.05,121.87 L453.90,120.68 L455.76,119.54 L457.61,118.47 L459.46,117.45 L461.31,116.48 L463.16,115.56 L465.01,114.69 L466.86,113.86 L468.72,113.09 L470.57,112.35" fill="none" stroke="#a8022e" stroke-width="1.25"/>
<path d="M359.49,221.30 L361.34,220.85 L363.19,220.37 L365.04,219.84 L366.89,219.25 L368.74,218.61 L370.59,217.91 L372.45,217.14 L374.30,216.30 L376.15,215.38 L378.00,214.39 L379.85,213.30 L381.70,212.13 L383.55,210.86 L385.41,209.49 L387.26,208.02 L389.11,206.44 L390.96,204.75 L392.81,202.95 L394.66,201.04 L396.51,199.01 L398.36,196.87 L400.22,194.63 L402.07,192.28 L403.92,189.84 L405.77,187.31 L407.62,184.71 L409.47,182.03 L411.32,179.30 L413.18,176.53 L415.03,173.74 L416.88,170.93 L418.73,168.12 L420.58,165.34 L422.43,162.58 L424.28,159.88 L426.13,157.23 L427.99,154.66 L429.84,152.17 L431.69,149.77 L433.54,147.46 L435.39,145.27 L437.24,143.18 L439.09,141.20 L440.95,139.34 L442.80,137.59 L444.65,135.95 L446.50,134.41 L448.35,132.99 L450.20,131.67 L452.05,130.44 L453.90,129.31 L455.76,128.26 L457.61,127.30 L459.46,126.42 L461.31,125.62 L463.16,124.88 L465.01,124.20 L466.86,123.59 L468.72,123.02 L470.57,122.51" fill="none" stroke="#a8022e" stroke-width="1.25" stroke-dasharray="3.4 2.0"/>
<path d="M359.49,220.97 L361.34,220.62 L363.19,220.24 L365.04,219.85 L366.89,219.43 L368.74,218.98 L370.59,218.51 L372.45,218.00 L374.30,217.47 L376.15,216.91 L378.00,216.31 L379.85,215.68 L381.70,215.02 L383.55,214.31 L385.41,213.57 L387.26,212.79 L389.11,211.97 L390.96,211.10 L392.81,210.20 L394.66,209.24 L396.51,208.25 L398.36,207.20 L400.22,206.11 L402.07,204.97 L403.92,203.78 L405.77,202.54 L407.62,201.26 L409.47,199.93 L411.32,198.55 L413.18,197.12 L415.03,195.65 L416.88,194.13 L418.73,192.57 L420.58,190.98 L422.43,189.34 L424.28,187.67 L426.13,185.96 L427.99,184.22 L429.84,182.46 L431.69,180.68 L433.54,178.87 L435.39,177.06 L437.24,175.23 L439.09,173.39 L440.95,171.55 L442.80,169.71 L444.65,167.88 L446.50,166.06 L448.35,164.26 L450.20,162.47 L452.05,160.70 L453.90,158.96 L455.76,157.25 L457.61,155.58 L459.46,153.93 L461.31,152.33 L463.16,150.76 L465.01,149.24 L466.86,147.76 L468.72,146.33 L470.57,144.94" fill="none" stroke="#a8022e" stroke-width="1.25"/>
<path d="M359.49,219.57 L361.34,219.56 L363.19,219.55 L365.04,219.54 L366.89,219.53 L368.74,219.52 L370.59,219.51 L372.45,219.49 L374.30,219.48 L376.15,219.46 L378.00,219.43 L379.85,219.41 L381.70,219.38 L383.55,219.34 L385.41,219.30 L387.26,219.26 L389.11,219.20 L390.96,219.14 L392.81,219.07 L394.66,218.99 L396.51,218.90 L398.36,218.80 L400.22,218.68 L402.07,218.54 L403.92,218.38 L405.77,218.20 L407.62,218.00 L409.47,217.77 L411.32,217.50 L413.18,217.20 L415.03,216.85 L416.88,216.46 L418.73,216.02 L420.58,215.52 L422.43,214.95 L424.28,214.32 L426.13,213.61 L427.99,212.82 L429.84,211.94 L431.69,210.97 L433.54,209.89 L435.39,208.72 L437.24,207.44 L439.09,206.05 L440.95,204.57 L442.80,202.98 L444.65,201.30 L446.50,199.54 L448.35,197.70 L450.20,195.81 L452.05,193.89 L453.90,191.93 L455.76,189.98 L457.61,188.04 L459.46,186.14 L461.31,184.29 L463.16,182.51 L465.01,180.81 L466.86,179.19 L468.72,177.68 L470.57,176.27" fill="none" stroke="#a8022e" stroke-width="1.25" stroke-dasharray="3.4 2.0"/>
<path d="M396.51,192.05 L399.01,196.80 L394.01,196.80Z" fill="#a8022e"/>
<path d="M415.03,138.85 L417.53,143.60 L412.53,143.60Z" fill="#a8022e"/>
<path d="M433.54,125.55 L436.04,130.30 L431.04,130.30Z" fill="#a8022e"/>
<path d="M470.57,118.90 L473.07,123.65 L468.07,123.65Z" fill="#a8022e"/>
<path d="M359.49,214.85 L361.99,219.60 L356.99,219.60Z" fill="#a8022e"/>
<path d="M378.00,213.90 L380.50,218.65 L375.50,218.65Z" fill="#a8022e"/>
<path d="M452.05,210.10 L454.55,214.85 L449.55,214.85Z" fill="#a8022e"/>
<path d="M396.51,207.05 L399.01,202.30 L394.01,202.30Z" fill="#fff" stroke="#a8022e" stroke-width="0.9"/>
<path d="M415.03,164.30 L417.53,159.55 L412.53,159.55Z" fill="#fff" stroke="#a8022e" stroke-width="0.9"/>
<path d="M433.54,145.30 L436.04,140.55 L431.04,140.55Z" fill="#fff" stroke="#a8022e" stroke-width="0.9"/>
<path d="M470.57,134.85 L473.07,130.10 L468.07,130.10Z" fill="#fff" stroke="#a8022e" stroke-width="0.9"/>
<path d="M359.49,221.30 L361.99,216.55 L356.99,216.55Z" fill="#fff" stroke="#a8022e" stroke-width="0.9"/>
<path d="M378.00,220.35 L380.50,215.60 L375.50,215.60Z" fill="#fff" stroke="#a8022e" stroke-width="0.9"/>
<path d="M415.03,193.75 L417.53,189.00 L412.53,189.00Z" fill="#a8022e"/>
<path d="M452.05,130.10 L454.55,125.35 L449.55,125.35Z" fill="#a8022e"/>
<path d="M433.54,217.50 L436.04,212.75 L431.04,212.75Z" fill="#a8022e"/>
<path d="M470.57,218.45 L473.07,213.70 L468.07,213.70Z" fill="#a8022e"/>
<path d="M378.00,216.55 L380.50,211.80 L375.50,211.80Z" fill="#a8022e"/>
<path d="M359.49,222.25 L361.99,217.50 L356.99,217.50Z" fill="#a8022e"/>
<circle cx="415.03" cy="198.60" r="2.12" fill="#fff" stroke="#a8022e" stroke-width="0.9"/>
<circle cx="433.54" cy="172.00" r="2.12" fill="#fff" stroke="#a8022e" stroke-width="0.9"/>
<circle cx="452.05" cy="153.00" r="2.12" fill="#fff" stroke="#a8022e" stroke-width="0.9"/>
<circle cx="470.57" cy="150.15" r="2.12" fill="#fff" stroke="#a8022e" stroke-width="0.9"/>
<circle cx="378.00" cy="217.60" r="2.12" fill="#fff" stroke="#a8022e" stroke-width="0.9"/>
<circle cx="359.49" cy="217.60" r="2.12" fill="#fff" stroke="#a8022e" stroke-width="0.9"/>
<circle cx="433.54" cy="206.20" r="2.38" fill="#a8022e"/>
<circle cx="452.05" cy="179.60" r="2.38" fill="#a8022e"/>
<circle cx="470.57" cy="178.65" r="2.38" fill="#a8022e"/>
<circle cx="415.03" cy="217.60" r="2.38" fill="#a8022e"/>
<circle cx="396.51" cy="217.60" r="2.38" fill="#a8022e"/>
<path d="M396.51,216.75 L399.01,221.50 L394.01,221.50Z" fill="#fff" stroke="#a8022e" stroke-width="0.9"/>
<path d="M415.03,215.80 L417.53,220.55 L412.53,220.55Z" fill="#fff" stroke="#a8022e" stroke-width="0.9"/>
<path d="M433.54,215.80 L436.04,220.55 L431.04,220.55Z" fill="#fff" stroke="#a8022e" stroke-width="0.9"/>
<path d="M452.05,216.75 L454.55,221.50 L449.55,221.50Z" fill="#fff" stroke="#a8022e" stroke-width="0.9"/>
<path d="M470.57,214.85 L473.07,219.60 L468.07,219.60Z" fill="#fff" stroke="#a8022e" stroke-width="0.9"/>
<path d="M378.00,215.80 L380.50,220.55 L375.50,220.55Z" fill="#fff" stroke="#a8022e" stroke-width="0.9"/>
<path d="M470.57,217.00 L472.57,219.50 L470.57,222.00 L468.57,219.50Z" fill="#fff" stroke="#a8022e" stroke-width="0.9"/>
<path d="M452.05,216.05 L454.05,218.55 L452.05,221.05 L450.05,218.55Z" fill="#fff" stroke="#a8022e" stroke-width="0.9"/>
<path d="M433.54,215.10 L435.54,217.60 L433.54,220.10 L431.54,217.60Z" fill="#fff" stroke="#a8022e" stroke-width="0.9"/>
<path d="M415.03,215.10 L417.03,217.60 L415.03,220.10 L413.03,217.60Z" fill="#fff" stroke="#a8022e" stroke-width="0.9"/>
<path d="M359.49,214.15 L361.49,216.65 L359.49,219.15 L357.49,216.65Z" fill="#fff" stroke="#a8022e" stroke-width="0.9"/>
<rect x="357.44" y="213.65" width="4.10" height="4.10" fill="#fff" stroke="#a8022e" stroke-width="0.9"/>
<rect x="394.46" y="212.70" width="4.10" height="4.10" fill="#fff" stroke="#a8022e" stroke-width="0.9"/>
<rect x="431.49" y="216.50" width="4.10" height="4.10" fill="#fff" stroke="#a8022e" stroke-width="0.9"/>
<rect x="110.0" y="279.3" width="315.0" height="87.69999999999999" fill="none" stroke="#000" stroke-width="1.25"/>
<line x1="110.00" y1="305.30" x2="425.00" y2="305.30" stroke="#000" stroke-width="1.25" />
<line x1="110.00" y1="317.60" x2="425.00" y2="317.60" stroke="#000" stroke-width="1.25" />
<line x1="110.00" y1="330.00" x2="425.00" y2="330.00" stroke="#000" stroke-width="1.25" />
<line x1="110.00" y1="342.30" x2="425.00" y2="342.30" stroke="#000" stroke-width="1.25" />
<line x1="110.00" y1="354.60" x2="425.00" y2="354.60" stroke="#000" stroke-width="1.25" />
<line x1="221.50" y1="279.30" x2="221.50" y2="367.00" stroke="#000" stroke-width="1.25" />
<text x="163.80" y="289.00" font-size="8.6" text-anchor="middle" font-weight="bold" fill="#000" >C1q-binding</text>
<text x="163.60" y="298.80" font-size="8.6" text-anchor="middle" font-weight="bold" fill="#000" >(1 highest, 5 lowest)</text>
<text x="323.00" y="295.50" font-size="8.4" text-anchor="middle" font-weight="bold" fill="#000" >Antibody</text>
<path d="M124.2,305.3 L139.8,305.3 L131.7,366.3 Z" fill="#000"/>
<text x="163.80" y="314.30" font-size="8.9" text-anchor="middle" fill="#111" stroke="#111" stroke-width="0.18" >1</text>
<text x="230.70" y="314.30" font-size="8.95" text-anchor="start" fill="#111" stroke="#111" stroke-width="0.18" >34-1-2S</text>
<text x="163.80" y="326.60" font-size="8.9" text-anchor="middle" fill="#111" stroke="#111" stroke-width="0.18" >2</text>
<text x="230.70" y="326.60" font-size="8.95" text-anchor="start" fill="#111" stroke="#111" stroke-width="0.18" >34-1-2S Deglycosylated</text>
<text x="163.80" y="339.00" font-size="8.9" text-anchor="middle" fill="#111" stroke="#111" stroke-width="0.18" >3</text>
<text x="230.70" y="339.00" font-size="8.95" text-anchor="start" fill="#111" stroke="#111" stroke-width="0.18" >SF1.1.10</text>
<text x="163.80" y="351.30" font-size="8.9" text-anchor="middle" fill="#111" stroke="#111" stroke-width="0.18" >4</text>
<text x="230.70" y="351.30" font-size="8.95" text-anchor="start" fill="#111" stroke="#111" stroke-width="0.18" >SF1.1.10 Deglycosylated</text>
<text x="163.80" y="363.60" font-size="8.9" text-anchor="middle" fill="#111" stroke="#111" stroke-width="0.18" >5</text>
<text x="230.70" y="363.60" font-size="8.95" text-anchor="start" fill="#111" stroke="#111" stroke-width="0.18" >34-1-2S Fab / SF1.1.10 Fab / Heat Inactivation</text>
<rect x="126.5" y="381.5" width="281.8" height="153.20000000000005" fill="none" stroke="#000" stroke-width="1.25"/>
<line x1="126.50" y1="398.30" x2="408.30" y2="398.30" stroke="#000" stroke-width="1.25" />
<line x1="126.50" y1="410.70" x2="408.30" y2="410.70" stroke="#000" stroke-width="1.25" />
<line x1="126.50" y1="423.10" x2="408.30" y2="423.10" stroke="#000" stroke-width="1.25" />
<line x1="126.50" y1="435.50" x2="408.30" y2="435.50" stroke="#000" stroke-width="1.25" />
<line x1="126.50" y1="447.90" x2="408.30" y2="447.90" stroke="#000" stroke-width="1.25" />
<line x1="126.50" y1="460.30" x2="408.30" y2="460.30" stroke="#000" stroke-width="1.25" />
<line x1="126.50" y1="472.70" x2="408.30" y2="472.70" stroke="#000" stroke-width="1.25" />
<line x1="126.50" y1="485.10" x2="408.30" y2="485.10" stroke="#000" stroke-width="1.25" />
<line x1="126.50" y1="497.50" x2="408.30" y2="497.50" stroke="#000" stroke-width="1.25" />
<line x1="126.50" y1="509.90" x2="408.30" y2="509.90" stroke="#000" stroke-width="1.25" />
<line x1="126.50" y1="522.30" x2="408.30" y2="522.30" stroke="#000" stroke-width="1.25" />
<line x1="326.70" y1="381.50" x2="326.70" y2="534.70" stroke="#000" stroke-width="1.25" />
<text x="130.80" y="393.60" font-size="8.6" text-anchor="start" font-weight="bold" fill="#000" >C1q-binding</text>
<text x="330.8" y="393.6" font-size="8.6" font-weight="bold" fill="#000"><tspan font-style="italic" font-weight="normal">P</tspan>-value</text>
<text x="130.80" y="407.50" font-size="8.85" text-anchor="start" fill="#111" stroke="#111" stroke-width="0.18" >34-1-2S vs 34-1-2S Deglycosylated</text>
<text x="330.80" y="407.50" font-size="8.85" text-anchor="start" fill="#111" stroke="#111" stroke-width="0.18" >NS</text>
<text x="130.80" y="419.90" font-size="8.85" text-anchor="start" fill="#111" stroke="#111" stroke-width="0.18" >34-1-2S vs 34-1-2S Fab-fragment</text>
<text x="330.80" y="419.90" font-size="8.85" text-anchor="start" fill="#111" stroke="#111" stroke-width="0.18" >&lt;0,0001. ****</text>
<text x="130.80" y="432.30" font-size="8.85" text-anchor="start" fill="#111" stroke="#111" stroke-width="0.18" >34-1-2S vs SF1.1.10</text>
<text x="330.80" y="432.30" font-size="8.85" text-anchor="start" fill="#111" stroke="#111" stroke-width="0.18" >&lt;0,0001. ****</text>
<text x="130.80" y="444.70" font-size="8.85" text-anchor="start" fill="#111" stroke="#111" stroke-width="0.18" >34-1-2S vs SF1.1.10 Deglycosylated</text>
<text x="330.80" y="444.70" font-size="8.85" text-anchor="start" fill="#111" stroke="#111" stroke-width="0.18" >&lt;0,0001. ****</text>
<text x="130.80" y="457.10" font-size="8.85" text-anchor="start" fill="#111" stroke="#111" stroke-width="0.18" >34-1-2S vs SF1.1.10 Fab-fragment</text>
<text x="330.80" y="457.10" font-size="8.85" text-anchor="start" fill="#111" stroke="#111" stroke-width="0.18" >&lt;0,0001. ****</text>
<text x="130.80" y="469.50" font-size="8.85" text-anchor="start" fill="#111" stroke="#111" stroke-width="0.18" >34-1-2S vs 34-1-2S Heat-inactivated serum</text>
<text x="330.80" y="469.50" font-size="8.85" text-anchor="start" fill="#111" stroke="#111" stroke-width="0.18" >&lt;0,0001. ****</text>
<text x="130.80" y="481.90" font-size="8.85" text-anchor="start" fill="#111" stroke="#111" stroke-width="0.18" >34-1-2S vs SF1.1.10 Heat-inactivated serum</text>
<text x="330.80" y="481.90" font-size="8.85" text-anchor="start" fill="#111" stroke="#111" stroke-width="0.18" >&lt;0,0001. ****</text>
<text x="130.80" y="494.30" font-size="8.85" text-anchor="start" fill="#111" stroke="#111" stroke-width="0.18" >SF1.1.10 vs SF1.1.10 Deglycosylated</text>
<text x="330.80" y="494.30" font-size="8.85" text-anchor="start" fill="#111" stroke="#111" stroke-width="0.18" >0,001. ***</text>
<text x="130.80" y="506.70" font-size="8.85" text-anchor="start" fill="#111" stroke="#111" stroke-width="0.18" >SF1.1.10 vs SF1.1.10 Fab-fragment</text>
<text x="330.80" y="506.70" font-size="8.85" text-anchor="start" fill="#111" stroke="#111" stroke-width="0.18" >&lt;0,0001. ****</text>
<text x="130.80" y="519.10" font-size="8.85" text-anchor="start" fill="#111" stroke="#111" stroke-width="0.18" >SF1.1.10 vs 34-1-2S Heat-inactivated serum</text>
<text x="330.80" y="519.10" font-size="8.85" text-anchor="start" fill="#111" stroke="#111" stroke-width="0.18" >&lt;0,0001. ****</text>
<text x="130.80" y="531.50" font-size="8.85" text-anchor="start" fill="#111" stroke="#111" stroke-width="0.18" >SF1.1.10 vs SF1.1.10 Heat-inactivated serum</text>
<text x="330.80" y="531.50" font-size="8.85" text-anchor="start" fill="#111" stroke="#111" stroke-width="0.18" >&lt;0,0001. ****</text>
<text x="10.8" y="570.2" font-size="17" font-weight="bold" fill="#000" stroke="#000" stroke-width="0.35" textLength="10.6" lengthAdjust="spacingAndGlyphs">B</text>
<line x1="157.50" y1="565.60" x2="171.30" y2="565.60" stroke="#a8022e" stroke-width="1.3" />
<rect x="161.70" y="562.90" width="5.40" height="5.40" fill="#a8022e"/>
<text x="175.80" y="568.45" font-size="7.4" text-anchor="start" fill="#1a1a1a" stroke="#1a1a1a" stroke-width="0.18" >AF6-88.5.5.3</text>
<line x1="241.20" y1="565.60" x2="253.80" y2="565.60" stroke="#a8022e" stroke-width="1.3" />
<rect x="245.15" y="563.25" width="4.70" height="4.70" fill="#fff" stroke="#a8022e" stroke-width="0.9"/>
<text x="258.30" y="568.45" font-size="7.4" text-anchor="start" fill="#1a1a1a" stroke="#1a1a1a" stroke-width="0.18" >AF6-88.5.5.3 Heat-inactivated serum</text>
<text x="194.6" y="590.9" font-size="13.2" fill="#111" stroke="#111" stroke-width="0.2">Plates coated with H-2K<tspan font-size="9.4" dy="-5.3">b</tspan></text>
<line x1="67.80" y1="604.20" x2="67.80" y2="735.60" stroke="#000" stroke-width="1.45" />
<line x1="63.50" y1="730.90" x2="67.80" y2="730.90" stroke="#000" stroke-width="1.2" />
<text x="58.30" y="733.90" font-size="8.5" text-anchor="end" fill="#111" stroke="#111" stroke-width="0.18" >0.4</text>
<line x1="63.50" y1="700.32" x2="67.80" y2="700.32" stroke="#000" stroke-width="1.2" />
<text x="58.30" y="703.32" font-size="8.5" text-anchor="end" fill="#111" stroke="#111" stroke-width="0.18" >0.6</text>
<line x1="63.50" y1="669.74" x2="67.80" y2="669.74" stroke="#000" stroke-width="1.2" />
<text x="58.30" y="672.74" font-size="8.5" text-anchor="end" fill="#111" stroke="#111" stroke-width="0.18" >0.8</text>
<line x1="63.50" y1="639.16" x2="67.80" y2="639.16" stroke="#000" stroke-width="1.2" />
<text x="58.30" y="642.16" font-size="8.5" text-anchor="end" fill="#111" stroke="#111" stroke-width="0.18" >1.0</text>
<line x1="63.50" y1="608.58" x2="67.80" y2="608.58" stroke="#000" stroke-width="1.2" />
<text x="58.30" y="611.58" font-size="8.5" text-anchor="end" fill="#111" stroke="#111" stroke-width="0.18" >1.2</text>
<line x1="67.10" y1="731.40" x2="253.50" y2="731.40" stroke="#000" stroke-width="1.45" />
<line x1="67.90" y1="731.40" x2="67.90" y2="735.60" stroke="#000" stroke-width="1.2" />
<text x="67.90" y="747.30" font-size="8.6" text-anchor="middle" fill="#111" stroke="#111" stroke-width="0.18" >0.01</text>
<line x1="128.60" y1="731.40" x2="128.60" y2="735.60" stroke="#000" stroke-width="1.2" />
<text x="128.60" y="747.30" font-size="8.6" text-anchor="middle" fill="#111" stroke="#111" stroke-width="0.18" >0.1</text>
<line x1="189.30" y1="731.40" x2="189.30" y2="735.60" stroke="#000" stroke-width="1.2" />
<text x="189.30" y="747.30" font-size="8.6" text-anchor="middle" fill="#111" stroke="#111" stroke-width="0.18" >1</text>
<line x1="250.00" y1="731.40" x2="250.00" y2="735.60" stroke="#000" stroke-width="1.2" />
<text x="250.00" y="747.30" font-size="8.6" text-anchor="middle" fill="#111" stroke="#111" stroke-width="0.18" >10</text>
<text x="92.55" y="765.80" font-size="13.2" fill="#111" stroke="#111" stroke-width="0.42" textLength="35.66" lengthAdjust="spacingAndGlyphs">Antibody</text>
<text x="131.76" y="765.80" font-size="13.2" fill="#111" stroke="#111" stroke-width="0.42" textLength="56.34" lengthAdjust="spacingAndGlyphs">concentration</text>
<text x="191.75" y="765.80" font-size="13.2" fill="#111" stroke="#111" stroke-width="0.42" textLength="36.90" lengthAdjust="spacingAndGlyphs">(µg/mL)</text>
<g transform="translate(37.80,731.60) rotate(-90)">
<text x="-0.25" y="0" font-size="12.8" fill="#111" stroke="#111" stroke-width="0.42" textLength="69.90" lengthAdjust="spacingAndGlyphs">Antibody-binding</text>
<text x="73.35" y="0" font-size="12.8" fill="#111" stroke="#111" stroke-width="0.42" textLength="11.50" lengthAdjust="spacingAndGlyphs">OD</text>
<text x="88.95" y="0" font-size="12.8" fill="#111" stroke="#111" stroke-width="0.42" textLength="20.20" lengthAdjust="spacingAndGlyphs">(450</text>
<text x="112.05" y="0" font-size="12.8" fill="#111" stroke="#111" stroke-width="0.42" textLength="16.00" lengthAdjust="spacingAndGlyphs">nM)</text>
</g>
<path d="M110.33,679.26 L112.15,676.68 L113.98,674.23 L115.81,671.90 L117.64,669.68 L119.46,667.57 L121.29,665.57 L123.12,663.68 L124.95,661.89 L126.77,660.19 L128.60,658.59 L130.43,657.08 L132.25,655.66 L134.08,654.31 L135.91,653.05 L137.74,651.86 L139.56,650.75 L141.39,649.70 L143.22,648.71 L145.05,647.79 L146.87,646.92 L148.70,646.10 L150.53,645.34 L152.35,644.63 L154.18,643.96 L156.01,643.33 L157.84,642.75 L159.66,642.20 L161.49,641.69 L163.32,641.21 L165.15,640.76 L166.97,640.35 L168.80,639.96 L170.63,639.59 L172.45,639.25 L174.28,638.93 L176.11,638.64 L177.94,638.36 L179.76,638.10 L181.59,637.86 L183.42,637.64 L185.24,637.43 L187.07,637.23 L188.90,637.05 L190.73,636.88 L192.55,636.72 L194.38,636.57 L196.21,636.44 L198.04,636.31 L199.86,636.19 L201.69,636.08 L203.52,635.97 L205.34,635.88 L207.17,635.79 L209.00,635.70 L210.83,635.63 L212.65,635.55 L214.48,635.48 L216.31,635.42 L218.14,635.36 L219.96,635.31" fill="none" stroke="#a8022e" stroke-width="1.25"/>
<rect x="107.3" y="679.0" width="5.0" height="7.6" fill="#1a0508"/>
<rect x="107.3" y="680.0" width="5.0" height="5.6" fill="#a8022e"/>
<rect x="125.40" y="660.16" width="5.40" height="5.40" fill="#a8022e"/>
<rect x="143.67" y="642.42" width="5.40" height="5.40" fill="#a8022e"/>
<rect x="161.95" y="632.64" width="5.40" height="5.40" fill="#a8022e"/>
<rect x="180.22" y="633.71" width="5.40" height="5.40" fill="#a8022e"/>
<rect x="198.49" y="635.85" width="5.40" height="5.40" fill="#a8022e"/>
<rect x="216.76" y="636.00" width="5.40" height="5.40" fill="#a8022e"/>
<line x1="321" y1="720.2" x2="503" y2="720.2" stroke="#111" stroke-width="3.0" stroke-dasharray="1.1 2.2"/>
<line x1="318.40" y1="603.50" x2="318.40" y2="735.30" stroke="#000" stroke-width="1.45" />
<line x1="314.10" y1="721.20" x2="318.40" y2="721.20" stroke="#000" stroke-width="1.2" />
<text x="310.30" y="724.20" font-size="8.9" text-anchor="end" fill="#111" stroke="#111" stroke-width="0.18" >0.0</text>
<line x1="314.10" y1="702.23" x2="318.40" y2="702.23" stroke="#000" stroke-width="1.2" />
<text x="310.30" y="705.23" font-size="8.9" text-anchor="end" fill="#111" stroke="#111" stroke-width="0.18" >0.2</text>
<line x1="314.10" y1="683.26" x2="318.40" y2="683.26" stroke="#000" stroke-width="1.2" />
<text x="310.30" y="686.26" font-size="8.9" text-anchor="end" fill="#111" stroke="#111" stroke-width="0.18" >0.4</text>
<line x1="314.10" y1="664.29" x2="318.40" y2="664.29" stroke="#000" stroke-width="1.2" />
<text x="310.30" y="667.29" font-size="8.9" text-anchor="end" fill="#111" stroke="#111" stroke-width="0.18" >0.6</text>
<line x1="314.10" y1="645.32" x2="318.40" y2="645.32" stroke="#000" stroke-width="1.2" />
<text x="310.30" y="648.32" font-size="8.9" text-anchor="end" fill="#111" stroke="#111" stroke-width="0.18" >0.8</text>
<line x1="314.10" y1="626.35" x2="318.40" y2="626.35" stroke="#000" stroke-width="1.2" />
<text x="310.30" y="629.35" font-size="8.9" text-anchor="end" fill="#111" stroke="#111" stroke-width="0.18" >1.0</text>
<line x1="314.10" y1="607.38" x2="318.40" y2="607.38" stroke="#000" stroke-width="1.2" />
<text x="310.30" y="610.38" font-size="8.9" text-anchor="end" fill="#111" stroke="#111" stroke-width="0.18" >1.2</text>
<line x1="317.70" y1="731.10" x2="507.30" y2="731.10" stroke="#000" stroke-width="1.45" />
<line x1="318.40" y1="731.10" x2="318.40" y2="735.30" stroke="#000" stroke-width="1.2" />
<text x="318.40" y="747.00" font-size="8.9" text-anchor="middle" fill="#111" stroke="#111" stroke-width="0.18" >0.01</text>
<line x1="380.20" y1="731.10" x2="380.20" y2="735.30" stroke="#000" stroke-width="1.2" />
<text x="380.20" y="747.00" font-size="8.9" text-anchor="middle" fill="#111" stroke="#111" stroke-width="0.18" >0.1</text>
<line x1="442.00" y1="731.10" x2="442.00" y2="735.30" stroke="#000" stroke-width="1.2" />
<text x="442.00" y="747.00" font-size="8.9" text-anchor="middle" fill="#111" stroke="#111" stroke-width="0.18" >1</text>
<line x1="503.80" y1="731.10" x2="503.80" y2="735.30" stroke="#000" stroke-width="1.2" />
<text x="503.80" y="747.00" font-size="8.9" text-anchor="middle" fill="#111" stroke="#111" stroke-width="0.18" >10</text>
<text x="345.15" y="765.70" font-size="13.2" fill="#111" stroke="#111" stroke-width="0.42" textLength="35.82" lengthAdjust="spacingAndGlyphs">Antibody</text>
<text x="384.53" y="765.70" font-size="13.2" fill="#111" stroke="#111" stroke-width="0.42" textLength="56.58" lengthAdjust="spacingAndGlyphs">concentration</text>
<text x="444.79" y="765.70" font-size="13.2" fill="#111" stroke="#111" stroke-width="0.42" textLength="37.06" lengthAdjust="spacingAndGlyphs">(µg/mL)</text>
<g transform="translate(290.40,719.10) rotate(-90)">
<text x="-0.25" y="0" font-size="12.8" fill="#111" stroke="#111" stroke-width="0.42" textLength="45.90" lengthAdjust="spacingAndGlyphs">C1qibinding</text>
<text x="48.75" y="0" font-size="12.8" fill="#111" stroke="#111" stroke-width="0.42" textLength="11.30" lengthAdjust="spacingAndGlyphs">OD</text>
<text x="63.85" y="0" font-size="12.8" fill="#111" stroke="#111" stroke-width="0.42" textLength="20.70" lengthAdjust="spacingAndGlyphs">(450</text>
<text x="86.85" y="0" font-size="12.8" fill="#111" stroke="#111" stroke-width="0.42" textLength="19.30" lengthAdjust="spacingAndGlyphs">nM)</text>
</g>
<line x1="454.61" y1="708.77" x2="454.61" y2="702.14" stroke="#b3284e" stroke-width="1.0" />
<line x1="452.61" y1="708.77" x2="456.61" y2="708.77" stroke="#b3284e" stroke-width="1.0" />
<line x1="452.61" y1="702.14" x2="456.61" y2="702.14" stroke="#b3284e" stroke-width="1.0" />
<line x1="473.22" y1="712.00" x2="473.22" y2="703.75" stroke="#b3284e" stroke-width="1.0" />
<line x1="471.22" y1="712.00" x2="475.22" y2="712.00" stroke="#b3284e" stroke-width="1.0" />
<line x1="471.22" y1="703.75" x2="475.22" y2="703.75" stroke="#b3284e" stroke-width="1.0" />
<line x1="473.22" y1="720.82" x2="473.22" y2="717.50" stroke="#b3284e" stroke-width="1.0" />
<line x1="471.22" y1="720.82" x2="475.22" y2="720.82" stroke="#b3284e" stroke-width="1.0" />
<line x1="471.22" y1="717.50" x2="475.22" y2="717.50" stroke="#b3284e" stroke-width="1.0" />
<path d="M361.60,718.63 L363.46,718.60 L365.32,718.56 L367.18,718.53 L369.04,718.48 L370.90,718.44 L372.76,718.38 L374.62,718.32 L376.48,718.24 L378.34,718.16 L380.20,718.07 L382.06,717.97 L383.92,717.85 L385.78,717.72 L387.64,717.57 L389.50,717.41 L391.36,717.23 L393.22,717.03 L395.08,716.82 L396.94,716.59 L398.80,716.33 L400.66,716.07 L402.52,715.78 L404.38,715.48 L406.25,715.17 L408.11,714.85 L409.97,714.52 L411.83,714.19 L413.69,713.85 L415.55,713.52 L417.41,713.20 L419.27,712.88 L421.13,712.58 L422.99,712.29 L424.85,712.02 L426.71,711.76 L428.57,711.52 L430.43,711.30 L432.29,711.10 L434.15,710.92 L436.01,710.75 L437.87,710.60 L439.73,710.46 L441.59,710.34 L443.45,710.23 L445.31,710.14 L447.17,710.05 L449.03,709.98 L450.89,709.91 L452.75,709.86 L454.61,709.80 L456.47,709.76 L458.34,709.72 L460.20,709.69 L462.06,709.66 L463.92,709.63 L465.78,709.61 L467.64,709.59 L469.50,709.57 L471.36,709.56 L473.22,709.54" fill="none" stroke="#a8022e" stroke-width="1.9"/>
<path d="M361.60,719.28 L363.46,719.10 L365.32,718.91 L367.18,718.73 L369.04,718.55 L370.90,718.37 L372.76,718.19 L374.62,718.02 L376.48,717.85 L378.34,717.68 L380.20,717.52 L382.06,717.37 L383.92,717.22 L385.78,717.07 L387.64,716.93 L389.50,716.80 L391.36,716.67 L393.22,716.55 L395.08,716.44 L396.94,716.33 L398.80,716.22 L400.66,716.13 L402.52,716.03 L404.38,715.95 L406.25,715.86 L408.11,715.79 L409.97,715.72 L411.83,715.65 L413.69,715.59 L415.55,715.53 L417.41,715.47 L419.27,715.42 L421.13,715.38 L422.99,715.33 L424.85,715.29 L426.71,715.26 L428.57,715.22 L430.43,715.19 L432.29,715.16 L434.15,715.13 L436.01,715.10 L437.87,715.08 L439.73,715.06 L441.59,715.04 L443.45,715.02 L445.31,715.00 L447.17,714.99 L449.03,714.97 L450.89,714.96 L452.75,714.95 L454.61,714.94 L456.47,714.92 L458.34,714.92 L460.20,714.91 L462.06,714.90 L463.92,714.89 L465.78,714.88 L467.64,714.88 L469.50,714.87 L471.36,714.87 L473.22,714.86" fill="none" stroke="#a8022e" stroke-width="1.9"/>
<rect x="359.45" y="717.15" width="4.30" height="4.30" fill="#fff" stroke="#a8022e" stroke-width="1.1"/>
<rect x="378.05" y="714.12" width="4.30" height="4.30" fill="#fff" stroke="#a8022e" stroke-width="1.1"/>
<rect x="396.65" y="714.78" width="4.30" height="4.30" fill="#fff" stroke="#a8022e" stroke-width="1.1"/>
<rect x="415.26" y="712.88" width="4.30" height="4.30" fill="#fff" stroke="#a8022e" stroke-width="1.1"/>
<rect x="433.86" y="712.88" width="4.30" height="4.30" fill="#fff" stroke="#a8022e" stroke-width="1.1"/>
<rect x="452.46" y="712.60" width="4.30" height="4.30" fill="#fff" stroke="#a8022e" stroke-width="1.1"/>
<rect x="471.07" y="715.35" width="4.30" height="4.30" fill="#fff" stroke="#a8022e" stroke-width="1.1"/>
<rect x="359.00" y="716.13" width="5.20" height="5.20" fill="#a8022e"/>
<rect x="396.20" y="714.43" width="5.20" height="5.20" fill="#a8022e"/>
<rect x="414.81" y="706.17" width="5.20" height="5.20" fill="#a8022e"/>
<rect x="433.41" y="705.42" width="5.20" height="5.20" fill="#a8022e"/>
<rect x="452.01" y="706.17" width="5.20" height="5.20" fill="#a8022e"/>
<rect x="470.62" y="709.40" width="5.20" height="5.20" fill="#a8022e"/>
<rect x="378.05" y="714.12" width="4.30" height="4.30" fill="#fff" stroke="#a8022e" stroke-width="1.1"/>
<rect x="114.3" y="781.2" width="307.5" height="41.799999999999955" fill="none" stroke="#000" stroke-width="1.25"/>
<line x1="114.30" y1="798.50" x2="421.80" y2="798.50" stroke="#000" stroke-width="1.25" />
<line x1="332.80" y1="781.20" x2="332.80" y2="823.00" stroke="#000" stroke-width="1.25" />
<text x="118.90" y="793.20" font-size="8.6" text-anchor="start" font-weight="bold" fill="#000" >C1q-binding</text>
<text x="338.5" y="793.2" font-size="8.6" font-weight="bold" fill="#000"><tspan font-style="italic" font-weight="normal">P</tspan>-value</text>
<text x="118.90" y="813.80" font-size="8.95" text-anchor="start" fill="#111" stroke="#111" stroke-width="0.18" >AF6-88.5.5.3 vs AF6-88.5.5.3 Heat-inactivated serum</text>
<text x="338.50" y="813.80" font-size="8.95" text-anchor="start" fill="#111" stroke="#111" stroke-width="0.18" >NS</text>
<path d="M0.75,0.75 H518.9 V831.9 H0.75 Z" fill="none" stroke="#000" stroke-width="1.6"/>
<line x1="519" y1="0" x2="519" y2="833" stroke="#000" stroke-width="2"/>
<line x1="0" y1="832" x2="520" y2="832" stroke="#000" stroke-width="2"/>
</svg>
</body></html>
